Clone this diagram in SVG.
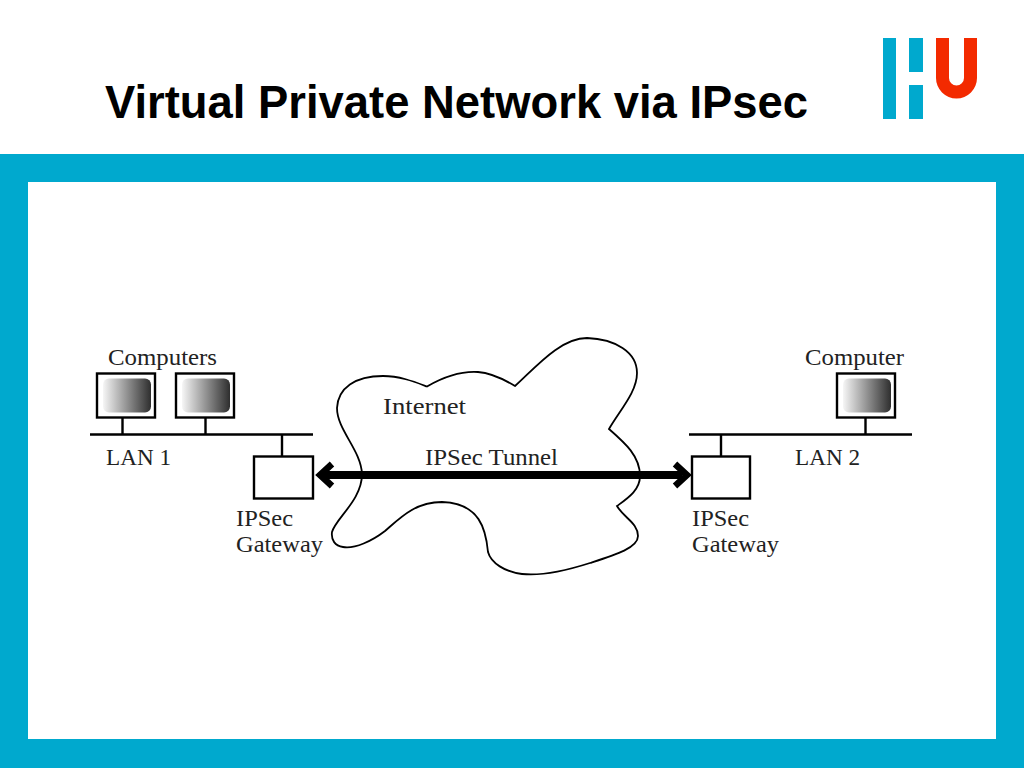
<svg xmlns="http://www.w3.org/2000/svg" width="1024" height="768" viewBox="0 0 1024 768">
<style>
.title{font-family:"Liberation Sans",Arial,sans-serif;font-weight:bold;font-size:45.400px;fill:#000}
.lbl{font-family:"Liberation Serif","Times New Roman",serif;font-size:23px;fill:#222}
.ln{fill:none;stroke:#000;stroke-width:2.400}
.box{fill:#fff;stroke:#000;stroke-width:2.400}
.teal{fill:#00a9ce}
</style>
<defs>
<linearGradient id="scr" x1="0" y1="0" x2="1" y2="0">
<stop offset="0" stop-color="#f6f6f6"/><stop offset="1" stop-color="#2e2e2e"/>
</linearGradient>
<g id="mon">
<rect class="box" x="0" y="0" width="58" height="44"/>
<rect x="6" y="5" width="48" height="34" rx="6" fill="url(#scr)"/>
</g>
</defs>
<rect width="1024" height="768" fill="#fff"/>
<rect class="teal" y="154" width="1024" height="614"/>
<rect x="28" y="182" width="968" height="557" fill="#fff"/>
<text class="title" x="105" y="118">Virtual Private Network via IPsec</text>
<g id="logo">
<rect class="teal" x="883" y="38" width="13" height="81"/>
<rect class="teal" x="909" y="38" width="14" height="34"/>
<rect class="teal" x="909" y="85" width="14" height="34"/>
<path d="M936 38H949V78A7.500 7.500 0 0 0 964 78V38H977V78A20.500 20.500 0 0 1 936 78Z" fill="#f32a00"/>
</g>
<g id="connectors">
<path class="ln" d="M90 434.500H313M689 434.500H912M122.500 417V434.500M205.500 417V434.500M282 434.500V456M721 434.500V456M865.500 417V434.500"/>
</g>
<g id="internet">
<path class="ln" style="stroke-width:1.800" d="M427 386.500C445 376 462 371 478 372C492 373 505 380 515 386C535 368 560 338 587 338C615 339 637 352 637 373C637 392 620 410 609 429C625 443 640 456 640 476C640 490 628 498 617 506C624 518 638 523 638 536C638 548 615 555 590 563C565 571 540 576 522 574C505 572 491 563 488 552C486 530 480 503 442 502C415 502 400 518 385 531C372 541 355 549 343 547C335 546 331 540 332 532C336 518 362 500 362 474C361 450 337 430 337 408C338 388 355 376 383 376C400 376 415 382 427 386.500Z"/>
<text class="lbl" x="383" y="414" textLength="83" lengthAdjust="spacingAndGlyphs">Internet</text>
</g>
<g id="tunnel">
<text class="lbl" x="425" y="465" textLength="133" lengthAdjust="spacingAndGlyphs">IPSec Tunnel</text>
<path d="M324 475H682" fill="none" stroke="#000" stroke-width="8"/>
<path d="M332 464L320 475L332 486M675 464L687 475L675 486" fill="none" stroke="#000" stroke-width="6.500"/>
</g>
<g id="lan1">
<text class="lbl" x="108" y="365" textLength="109" lengthAdjust="spacingAndGlyphs">Computers</text>
<use href="#mon" x="97" y="373.500"/>
<use href="#mon" x="176" y="373.500"/>
<text class="lbl" x="106" y="465" textLength="65" lengthAdjust="spacingAndGlyphs">LAN 1</text>
</g>
<g id="gateway1">
<rect class="box" x="254" y="456.500" width="59" height="42"/>
<text class="lbl" x="236" y="526" textLength="57" lengthAdjust="spacingAndGlyphs">IPSec</text>
<text class="lbl" x="236" y="552" textLength="87" lengthAdjust="spacingAndGlyphs">Gateway</text>
</g>
<g id="lan2">
<text class="lbl" x="805" y="365" textLength="99" lengthAdjust="spacingAndGlyphs">Computer</text>
<use href="#mon" x="837" y="373.500"/>
<text class="lbl" x="795" y="465" textLength="65" lengthAdjust="spacingAndGlyphs">LAN 2</text>
</g>
<g id="gateway2">
<rect class="box" x="692" y="456.500" width="58" height="42"/>
<text class="lbl" x="692" y="526" textLength="57" lengthAdjust="spacingAndGlyphs">IPSec</text>
<text class="lbl" x="692" y="552" textLength="87" lengthAdjust="spacingAndGlyphs">Gateway</text>
</g>
</svg>
